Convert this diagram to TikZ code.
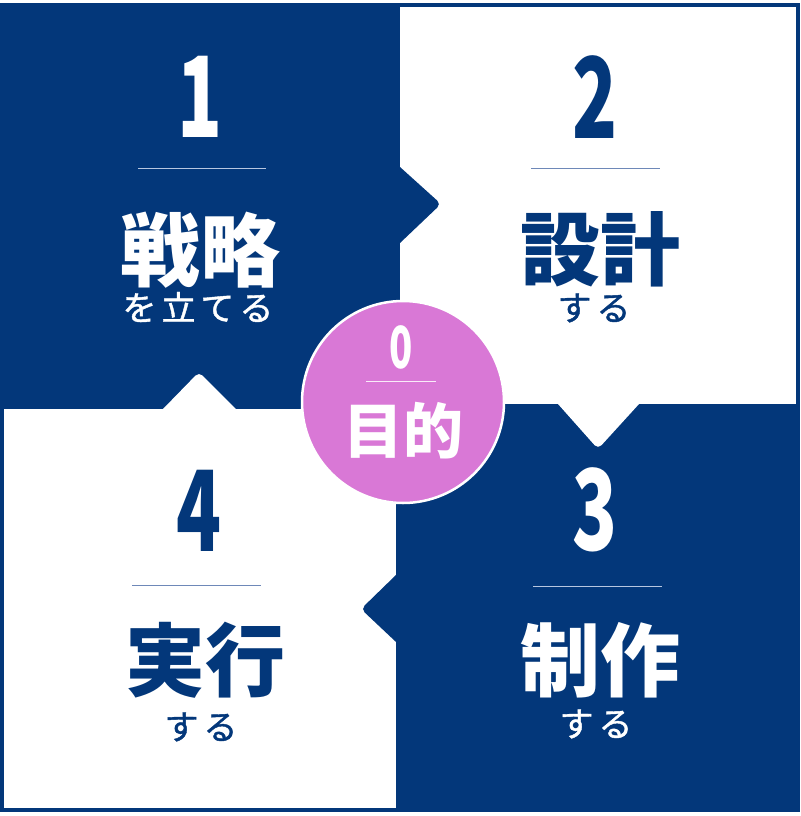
\documentclass[tikz,border=0pt]{standalone}
\usepackage{fontspec}
\usepackage{graphicx}
\newfontfamily\jp{Noto Sans CJK JP}
\newfontfamily\jpm{Noto Sans CJK JP}[FakeBold=1.2]
\definecolor{navy}{HTML}{03377A}
\definecolor{pinkc}{HTML}{D978D6}
\definecolor{rulelight}{HTML}{B7C6E0}
\definecolor{ruledark}{HTML}{6E88B8}
\newcommand{\nx}[1]{\scalebox{0.66}[1]{#1}}
\newcommand{\gapj}{\hspace{5pt}}
\tikzset{
  num/.style={font=\jp\bfseries\fontsize{112}{112}\selectfont, inner sep=0, anchor=center},
  bigtxt/.style={font=\jp\bfseries\fontsize{80}{80}\selectfont, inner sep=0, anchor=center},
  smalltxt/.style={font=\jpm\fontsize{34}{34}\selectfont, inner sep=0, anchor=center},
  onnavy/.style={text=white},
  onwhite/.style={text=navy},
}
\begin{document}
\begin{tikzpicture}[x=1pt,y=-1pt]
\useasboundingbox (0,0) rectangle (800,816);
\fill[white] (0,0) rectangle (800,816);
% navy base
\fill[navy] (0,3) rectangle (800,812);
% white panels
\fill[white] (400,7) rectangle (796,404);
\fill[white] (4,409) rectangle (396,808);
% arrows
\fill[navy, rounded corners=5] (392,159.8) -- (441,204) -- (392,250.6) -- cycle;
\fill[white, rounded corners=5] (550.9,396) -- (598,449) -- (646.3,396) -- cycle;
\fill[navy, rounded corners=5] (404,567.2) -- (361,609) -- (404,649.5) -- cycle;
\fill[white, rounded corners=5] (155.2,417) -- (199,372) -- (244,417) -- cycle;
% rules
\draw[rulelight, line width=1] (138,168) -- (266,168);
\draw[ruledark, line width=1] (531,168) -- (660,168);
\draw[rulelight, line width=1] (533,586) -- (662,586);
\draw[ruledark, line width=1] (132,585) -- (261,585);
% circle
\node[circle, fill=pinkc, draw=white, line width=2.5, minimum size=202, inner sep=0] (c0) at (403,402) {};
\draw[white!85!pinkc, line width=1] (366,381) -- (436,381);
% texts
\node[num, onnavy] (n1) at (200,97) {\nx{1}};
\node[bigtxt, onnavy] (t1) at (200,250) {戦略};
\node[smalltxt, onnavy] (s1) at (198,307) {を\gapj 立\gapj て\gapj る};
\node[num, onwhite] (n2) at (595,97) {\nx{2}};
\node[bigtxt, onwhite] (t2) at (600,249) {設計};
\node[smalltxt, onwhite] (s2) at (594,308) {す\gapj る};
\node[num, onnavy] (n3) at (595,510) {\nx{3}};
\node[bigtxt, onnavy] (t3) at (600,660) {制作};
\node[smalltxt, onnavy] (s3) at (596,724) {す\gapj る};
\node[num, onwhite] (n4) at (199,511) {\nx{4}};
\node[bigtxt, onwhite] (t4) at (205,660) {実行};
\node[smalltxt, onwhite] (s4) at (201,727) {す\gapj る};
\node[num, onnavy, font=\jp\bfseries\fontsize{58}{58}\selectfont] (n0) at (401,347) {\nx{0}};
\node[bigtxt, onnavy, font=\jp\bfseries\fontsize{60}{60}\selectfont] (t0) at (403,431) {目的};
\end{tikzpicture}
\end{document}
